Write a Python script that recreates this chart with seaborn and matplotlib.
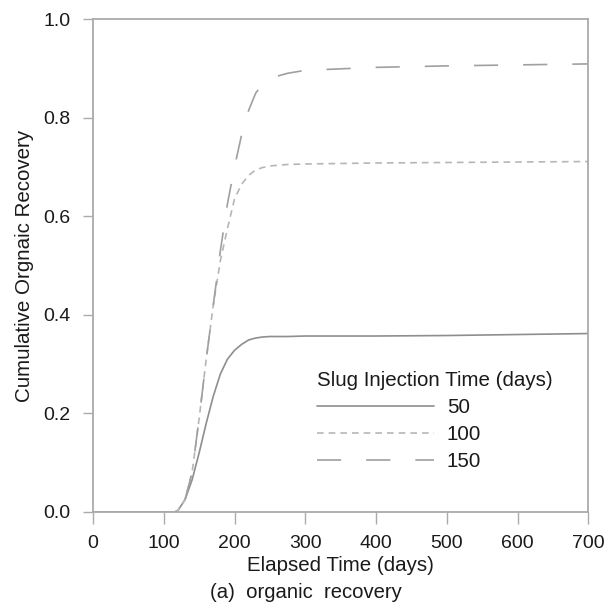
import matplotlib
matplotlib.use("Agg")
import matplotlib.pyplot as plt
import seaborn as sns
import pandas as pd

# values
days = [0, 100, 115, 120, 130, 140, 150, 160, 170, 180, 190, 200, 210, 220,
        230, 240, 250, 275, 300, 400, 500, 600, 700]
rec_50 = [0, 0, 0, 0.003, 0.025, 0.065, 0.12, 0.18, 0.235, 0.28, 0.31, 0.328,
          0.34, 0.349, 0.353, 0.355, 0.356, 0.356, 0.357, 0.357, 0.358, 0.360, 0.362]
rec_100 = [0, 0, 0, 0.003, 0.025, 0.08, 0.19, 0.31, 0.42, 0.51, 0.575, 0.635,
           0.665, 0.683, 0.694, 0.699, 0.702, 0.705, 0.706, 0.708, 0.709, 0.710, 0.711]
rec_150 = [0, 0, 0, 0.003, 0.025, 0.08, 0.19, 0.31, 0.42, 0.53, 0.625, 0.70,
           0.765, 0.815, 0.85, 0.868, 0.88, 0.89, 0.896, 0.902, 0.905, 0.907, 0.909]
slug_labels = ["50", "100", "150"]

df = pd.concat([
    pd.DataFrame({"days": days, "recovery": r, "slug": s})
    for s, r in zip(slug_labels, [rec_50, rec_100, rec_150])
])

sns.set_style("white")
plt.rcParams["font.family"] = ["Liberation Sans", "DejaVu Sans"]
plt.rcParams["text.color"] = "#1a1a1a"
plt.rcParams["axes.labelcolor"] = "#1a1a1a"

fig = plt.figure(figsize=(6.16, 6.15), dpi=100)
ax = fig.add_axes([0.151, 0.1675, 0.804, 0.8015])

palette = {"50": "#8e8e8e", "100": "#b6b6b6", "150": "#a0a0a0"}
dashes = {"50": "", "100": (4, 3), "150": (14.5, 15)}
sns.lineplot(data=df, x="days", y="recovery", hue="slug", style="slug",
             palette=palette, dashes=dashes, linewidth=1.2, ax=ax)

ax.set_xlim(0, 700)
ax.set_ylim(0, 1.0)
ax.set_xticks(range(0, 701, 100))
ax.set_yticks([0, 0.2, 0.4, 0.6, 0.8, 1.0])
ax.set_yticklabels(["0.0", "0.2", "0.4", "0.6", "0.8", "1.0"])
ax.tick_params(axis="both", direction="out", width=1, color="#aaaaaa",
               labelsize=14, labelcolor="#1a1a1a", bottom=True, left=True)
ax.tick_params(axis="x", length=8.5, pad=8)
ax.tick_params(axis="y", length=7, pad=9)
for sp in ax.spines.values():
    sp.set_color("#aaaaaa")
    sp.set_linewidth(1.3)

ax.set_xlabel("Elapsed Time (days)", fontsize=14.8, labelpad=3)
ax.set_ylabel("Cumulative Orgnaic Recovery", fontsize=14.8, labelpad=7)

leg = ax.legend(title="Slug Injection Time (days)", loc="upper left",
                bbox_to_anchor=(0.452, 0.287), frameon=False, fontsize=14.8,
                title_fontsize=14.8, handlelength=5.7, handletextpad=0.63,
                labelspacing=0.4, borderpad=0, borderaxespad=0,
                alignment="left")

fig.text(0.497, 0.036, "(a)  organic  recovery", ha="center", va="center",
         fontsize=14.6)

plt.savefig("out.png", dpi=100)
